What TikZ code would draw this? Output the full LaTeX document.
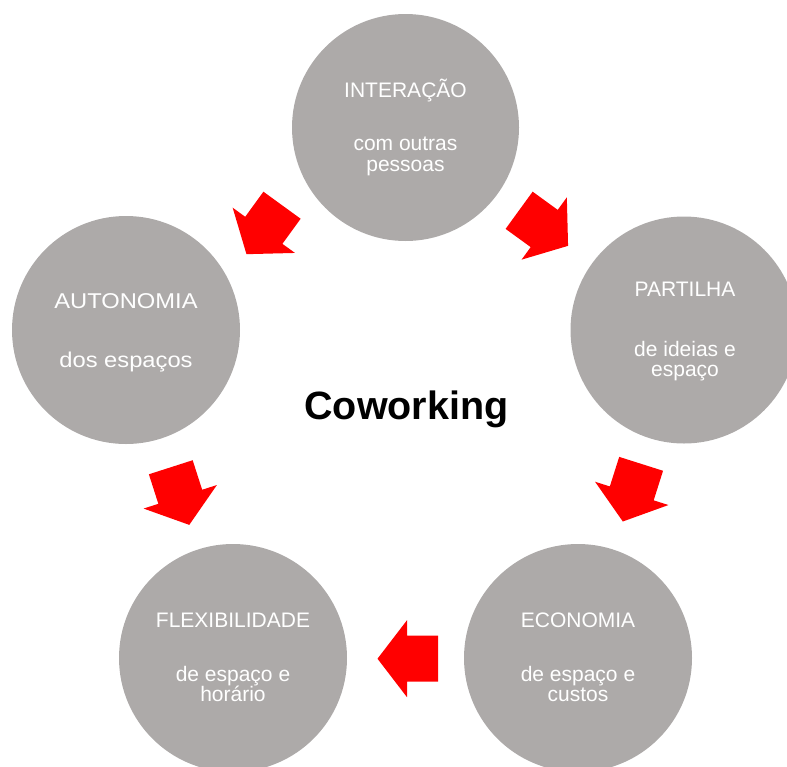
\documentclass[tikz,border=0pt]{standalone}
\usepackage{fontspec}
\setmainfont{Liberation Sans}
\definecolor{circgray}{RGB}{173,170,169}
\definecolor{arrred}{RGB}{255,0,0}
\tikzset{
  bubble/.style={circle, fill=circgray, draw=none, inner sep=0pt},
  ltxt/.style={anchor=base, inner sep=0pt, text=white, font=\fontsize{21}{21}\selectfont},
  ttl/.style={anchor=base, inner sep=0pt, text=black, font=\fontsize{39.5}{40}\selectfont\bfseries},
  blockarrow/.pic={
    \fill[arrred] (-30.5,-23) -- (0.5,-23) -- (0.5,-38.5) -- (30,0) -- (0.5,38.5) -- (0.5,23) -- (-30.5,23) -- cycle;
  }
}
\begin{document}
\begin{tikzpicture}[x=1pt,y=-1pt]
\useasboundingbox (0,0) rectangle (787,766);
\clip (0,0) rectangle (787,766);
% circles
\node[bubble, minimum size=227pt] (top) at (405.5,127.5) {};
\node[bubble, minimum size=227pt] (right) at (684,330) {};
\node[bubble, minimum size=228pt] (left) at (126,330) {};
\node[bubble, minimum size=228pt] (botleft) at (233,658) {};
\node[bubble, minimum size=228pt] (botright) at (578,658) {};
% texts
\node[ltxt] (t1) at (405.5,97.3) {INTERAÇÃO};
\node[ltxt] (t2) at (405.5,150) {com outras};
\node[ltxt] (t3) at (405.5,171) {pessoas};
\node[ltxt] (r1) at (685,296) {PARTILHA};
\node[ltxt] (r2) at (685,356.7) {de ideias e};
\node[ltxt] (r3) at (685,376.7) {espaço};
\node[ltxt] (l1) at (126,308.7) {\scalebox{1.13}[1.02]{AUTONOMIA}};
\node[ltxt] (l2) at (126,367) {\scalebox{1.13}[1.02]{dos espaços}};
\node[ltxt] (bl1) at (233,627.3) {FLEXIBILIDADE};
\node[ltxt] (bl2) at (233,681.7) {de espaço e};
\node[ltxt] (bl3) at (233,701.7) {horário};
\node[ltxt] (br1) at (578,627.3) {ECONOMIA};
\node[ltxt] (br2) at (578,681.7) {de espaço e};
\node[ltxt] (br3) at (578,701.7) {custos};
\node[ttl] (cw) at (406.5,419.3) {Coworking};
% arrows
\pic[rotate=234] at (264.1,229.9) {blockarrow};
\pic[rotate=-36] at (543.8,228.2) {blockarrow};
\pic[rotate=-107.6] at (631.9,492.9) {blockarrow};
\pic[rotate=180] at (407.5,658.7) {blockarrow};
\pic[rotate=-72.2] at (180.1,496.3) {blockarrow};
\end{tikzpicture}
\end{document}
